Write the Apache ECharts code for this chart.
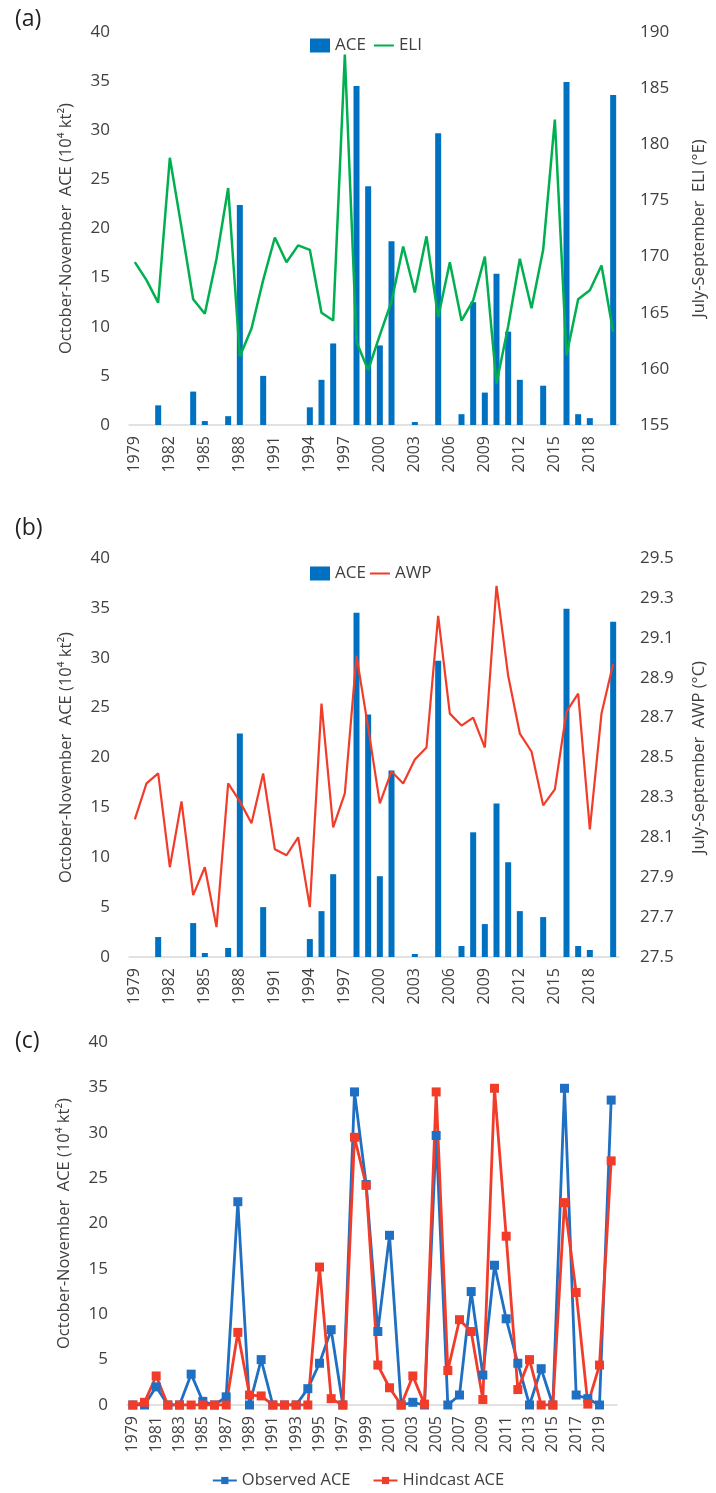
<!DOCTYPE html>
<html>
<head>
<meta charset="utf-8">
<script src="https://cdn.jsdelivr.net/npm/echarts@6/dist/echarts.min.js"></script>
<style>
  html, body { margin: 0; padding: 0; background: #fff; }
  #container { width: 716px; height: 1493px; }
</style>
</head>
<body>
<div id="container"></div>
<script>
// years on the category axis
var years = ['1979','1980','1981','1982','1983','1984','1985','1986','1987','1988',
             '1989','1990','1991','1992','1993','1994','1995','1996','1997','1998',
             '1999','2000','2001','2002','2003','2004','2005','2006','2007','2008',
             '2009','2010','2011','2012','2013','2014','2015','2016','2017','2018',
             '2019','2020'];

// October-November ACE (10^4 kt^2), observed
var aceObserved = [0, 0, 2.0, 0, 0, 3.4, 0.4, 0, 0.9, 22.4,
                   0, 5.0, 0, 0, 0, 1.8, 4.6, 8.3, 0, 34.5,
                   24.3, 8.1, 18.7, 0, 0.3, 0, 29.7, 0, 1.1, 12.5,
                   3.3, 15.4, 9.5, 4.6, 0, 4.0, 0, 34.9, 1.1, 0.7,
                   0, 33.6];

// July-September ELI (°E)
var eli = [169.5, 167.9, 165.9, 178.8, 172.6, 166.2, 164.9, 169.8, 176.1, 161.1,
           163.6, 167.9, 171.7, 169.5, 171.0, 170.6, 165.0, 164.3, 188.0, 162.4,
           159.9, 163.0, 166.0, 170.9, 166.8, 171.8, 164.6, 169.5, 164.3, 166.1,
           170.0, 158.7, 163.8, 169.8, 165.4, 170.6, 182.2, 161.2, 166.2, 167.0,
           169.2, 163.3];

// July-September AWP (°C)
var awp = [28.19, 28.37, 28.42, 27.95, 28.28, 27.81, 27.95, 27.65, 28.37, 28.28,
           28.17, 28.42, 28.04, 28.01, 28.10, 27.75, 28.77, 28.15, 28.32, 29.01,
           28.65, 28.27, 28.43, 28.37, 28.49, 28.55, 29.21, 28.72, 28.66, 28.70,
           28.55, 29.36, 28.91, 28.62, 28.53, 28.26, 28.34, 28.73, 28.82, 28.14,
           28.72, 28.97];

// hindcast ACE
var aceHindcast = [0, 0.3, 3.2, 0, 0, 0, 0, 0, 0, 8.0,
                   1.1, 1.0, 0, 0, 0, 0, 15.2, 0.7, 0, 29.5,
                   24.2, 4.4, 1.9, 0, 3.2, 0.1, 34.5, 3.8, 9.4, 8.1,
                   0.6, 34.9, 18.6, 1.7, 5.0, 0, 0, 22.3, 12.4, 0.1,
                   4.4, 26.9];

// tick labels of the AWP axis
var awpTicks = [27.5, 27.7, 27.9, 28.1, 28.3, 28.5, 28.7, 28.9, 29.1, 29.3, 29.5];

var FONT = 'Open Sans';
var TXT = '#404040';
var BLUE = '#0070C0';
var GREEN = '#00B050';
var RED = '#F23C2A';
var LINE_ICON = 'path://M0,0 L40,0 L40,4 L0,4 Z';

function xAxisFor(gridIndex, every) {
  return {
    type: 'category', gridIndex: gridIndex, data: years, boundaryGap: true,
    axisLine: { lineStyle: { color: '#D9D9D9', width: 1.5 } },
    axisTick: { show: false },
    axisLabel: { rotate: 90, interval: every, fontSize: 16, color: TXT, fontFamily: FONT, margin: 11 }
  };
}

function aceAxis(gridIndex) {
  return {
    type: 'value', gridIndex: gridIndex, position: 'left', min: 0, max: 40, interval: 5,
    name: 'October-November  ACE (10\u2074 kt\u00B2)', nameLocation: 'middle', nameRotate: 90, nameGap: 54,
    nameTextStyle: { fontSize: 16.5, color: TXT, fontFamily: FONT },
    axisLine: { show: false }, axisTick: { show: false }, splitLine: { show: false },
    axisLabel: { fontSize: 17, color: TXT, fontFamily: FONT, margin: 19 }
  };
}

var option = {
  animation: false,
  backgroundColor: '#fff',
  title: [
    { text: '(a)', left: 10, top: 3, textStyle: { fontSize: 23, fontWeight: 'normal', color: '#222', fontFamily: FONT } },
    { text: '(b)', left: 10, top: 512, textStyle: { fontSize: 23, fontWeight: 'normal', color: '#222', fontFamily: FONT } },
    { text: '(c)', left: 10, top: 1025, textStyle: { fontSize: 23, fontWeight: 'normal', color: '#222', fontFamily: FONT } }
  ],
  legend: [
    { data: [{ name: 'ACE', icon: 'rect' }, { name: 'ELI', icon: LINE_ICON }],
      left: 305, top: 32, itemGap: 8, itemWidth: 20, itemHeight: 14,
      textStyle: { fontSize: 17, color: TXT, fontFamily: FONT } },
    { data: [{ name: 'ACE', icon: 'rect' }, { name: 'AWP', icon: LINE_ICON }],
      left: 305, top: 560, itemGap: 4, itemWidth: 20, itemHeight: 14,
      textStyle: { fontSize: 17, color: TXT, fontFamily: FONT } },
    { data: ['Observed ACE', 'Hindcast ACE'], left: 'center', top: 1467, itemGap: 22, itemWidth: 24, itemHeight: 9,
      textStyle: { fontSize: 16.5, color: TXT, fontFamily: FONT } }
  ],
  grid: [
    { left: 129, right: 97, top: 32, height: 393 },
    { left: 129, right: 97, top: 558, height: 399 },
    { left: 127, right: 99, top: 1042, height: 363 }
  ],
  xAxis: [xAxisFor(0, 2), xAxisFor(1, 2), xAxisFor(2, 1)],
  yAxis: [
    aceAxis(0),
    { type: 'value', gridIndex: 0, position: 'right', min: 155, max: 190, interval: 5,
      name: 'July-September  ELI (\u00B0E)', nameLocation: 'middle', nameRotate: 90, nameGap: 72,
      nameTextStyle: { fontSize: 16.5, color: TXT, fontFamily: FONT },
      axisLine: { show: false }, axisTick: { show: false }, splitLine: { show: false },
      axisLabel: { fontSize: 17, color: TXT, fontFamily: FONT, margin: 21 } },
    aceAxis(1),
    { type: 'value', gridIndex: 1, position: 'right', min: 27.5, max: 29.5,
      name: 'July-September  AWP (\u00B0C)', nameLocation: 'middle', nameRotate: 90, nameGap: 72,
      nameTextStyle: { fontSize: 16.5, color: TXT, fontFamily: FONT },
      axisLine: { show: false }, axisTick: { show: false }, splitLine: { show: false },
      axisLabel: { fontSize: 17, color: TXT, fontFamily: FONT, margin: 21, customValues: awpTicks,
                   formatter: function (v) { return v.toFixed(1); } } },
    aceAxis(2)
  ],
  series: [
    { name: 'ACE', type: 'bar', xAxisIndex: 0, yAxisIndex: 0, data: aceObserved, barWidth: 6,
      itemStyle: { color: BLUE } },
    { name: 'ELI', type: 'line', xAxisIndex: 0, yAxisIndex: 1, data: eli, symbol: 'none',
      lineStyle: { color: GREEN, width: 2.5 }, itemStyle: { color: GREEN } },
    { name: 'ACE', type: 'bar', xAxisIndex: 1, yAxisIndex: 2, data: aceObserved, barWidth: 6,
      itemStyle: { color: BLUE } },
    { name: 'AWP', type: 'line', xAxisIndex: 1, yAxisIndex: 3, data: awp, symbol: 'none',
      lineStyle: { color: RED, width: 2.2 }, itemStyle: { color: RED } },
    { name: 'Observed ACE', type: 'line', xAxisIndex: 2, yAxisIndex: 4, data: aceObserved,
      symbol: 'rect', symbolSize: 9, showAllSymbol: true,
      lineStyle: { color: '#1F6FC3', width: 2.8 }, itemStyle: { color: '#1F6FC3' } },
    { name: 'Hindcast ACE', type: 'line', xAxisIndex: 2, yAxisIndex: 4, data: aceHindcast,
      symbol: 'rect', symbolSize: 9, showAllSymbol: true,
      lineStyle: { color: RED, width: 2.8 }, itemStyle: { color: RED } }
  ]
};

var myChart = echarts.init(document.getElementById('container'));
myChart.setOption(option);
</script>
</body>
</html>
